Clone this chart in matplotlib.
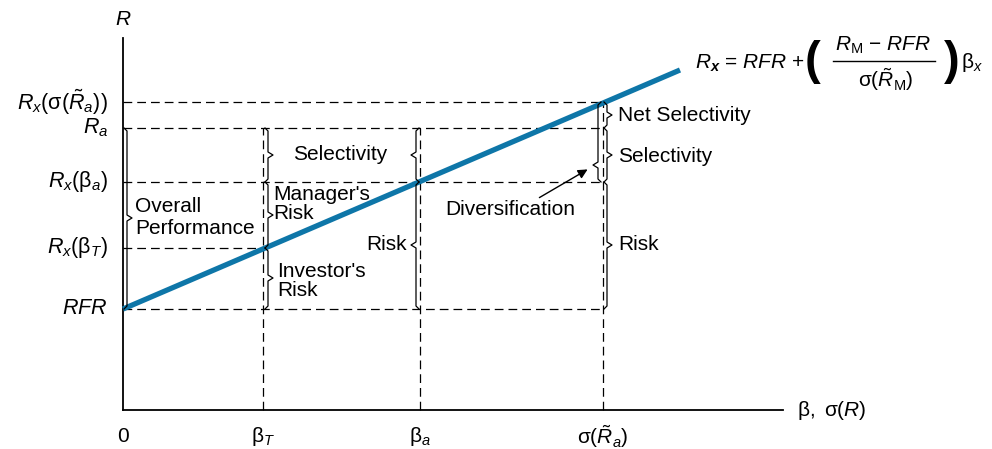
import matplotlib
matplotlib.use('Agg')
import matplotlib.pyplot as plt

plt.rcParams['font.family'] = ['Liberation Sans', 'DejaVu Sans']
plt.rcParams['mathtext.fontset'] = 'custom'
plt.rcParams['mathtext.rm'] = 'Liberation Sans'
plt.rcParams['mathtext.it'] = 'Liberation Sans:italic'
plt.rcParams['mathtext.bf'] = 'Liberation Sans:bold:italic'
plt.rcParams['mathtext.sf'] = 'Liberation Sans'

# positions on the x axis (beta / sigma) and return levels on the y axis
x_ticks = [0.0, 1.40, 2.97, 4.80]
x_labels = ['0', r'$\mathrm{\beta}_T$', r'$\mathrm{\beta}_a$', r'$\mathrm{\sigma}(\tilde{R}_a)$']
y_levels = [1.01, 1.62, 2.28, 2.82, 3.08]
y_labels = [r'$RFR$', r'$R_x(\mathrm{\beta}_T)$', r'$R_x(\mathrm{\beta}_a)$', r'$R_a$',
            r'$R_x(\mathrm{\sigma}(\tilde{R}_a))$']
# how far right each horizontal guide runs
y_ends = [4.80, 1.40, 4.80, 4.80, 4.80]
# how high each vertical guide runs
x_tops = [2.82, 2.82, 3.08]

# market line
line_x = [0.0, 5.57]
line_y = [1.01, 3.40]

x_axis_end = 6.60
y_axis_top = 3.72

BLUE = '#0e76a8'
FS = 15


def brace(ax, x, ytop, ybot, ytip, d=1):
    h = 0.03
    t = 0.05
    xs = [x - d * h, x, x, x + d * t, x, x, x - d * h]
    ys = [ytop, ytop - h, ytip + h, ytip, ytip - h, ybot + h, ybot]
    ax.plot(xs, ys, color='black', lw=0.9, solid_joinstyle='round')


fig = plt.figure(figsize=(9.92, 4.49), dpi=100)
ax = fig.add_axes([0, 0, 1, 1])
ax.set_xlim(-1.23, 8.69)
ax.set_ylim(-0.39, 4.10)
ax.axis('off')

dash = (0, (7, 4))

# guides
for y, xe in zip(y_levels, y_ends):
    ax.plot([0, xe], [y, y], color='black', lw=0.9, linestyle=dash)
for x, yt in zip(x_ticks[1:], x_tops):
    ax.plot([x, x], [0, yt], color='black', lw=0.9, linestyle=dash)

# axes
ax.plot([0, x_axis_end], [0, 0], color='black', lw=1.3)
ax.plot([0, 0], [0, y_axis_top], color='black', lw=1.3)

ax.plot(line_x, line_y, color=BLUE, lw=3.8, solid_capstyle='butt')

# tick labels
for x, lab in zip(x_ticks, x_labels):
    ax.text(x, -0.27, lab, ha='center', va='center', fontsize=FS)
for y, lab in zip(y_levels, y_labels):
    ax.text(-0.15, y, lab, ha='right', va='center', fontsize=15.5)

ax.text(0, 3.90, r'$R$', ha='center', va='center', fontsize=FS)
ax.text(6.74, 0.0, r'$\mathrm{\beta},\ \mathrm{\sigma}(R)$', ha='left', va='center', fontsize=FS)

# braces
brace(ax, 0.04, 2.82, 1.01, 1.92, 1)
brace(ax, 1.45, 2.82, 2.28, 2.55, 1)
brace(ax, 1.45, 2.28, 1.62, 1.95, 1)
brace(ax, 1.45, 1.62, 1.01, 1.32, 1)
brace(ax, 2.93, 2.82, 2.28, 2.55, -1)
brace(ax, 2.93, 2.28, 1.01, 1.65, -1)
brace(ax, 4.75, 3.08, 2.28, 2.45, -1)
brace(ax, 4.84, 3.08, 2.82, 2.95, 1)
brace(ax, 4.84, 2.82, 2.28, 2.55, 1)
brace(ax, 4.84, 2.28, 1.01, 1.65, 1)

# annotations
ax.text(0.12, 1.92, 'Overall\nPerformance', ha='left', va='center', fontsize=FS, linespacing=1.2)
ax.text(2.17, 2.55, 'Selectivity', ha='center', va='center', fontsize=FS)
ax.text(1.50, 2.06, "Manager's\nRisk", ha='left', va='center', fontsize=FS, linespacing=1.05)
ax.text(1.54, 1.29, "Investor's\nRisk", ha='left', va='center', fontsize=FS, linespacing=1.05)
ax.text(2.84, 1.65, 'Risk', ha='right', va='center', fontsize=FS)
ax.text(3.87, 2.00, 'Diversification', ha='center', va='center', fontsize=FS)
ax.annotate('', xy=(4.67, 2.42), xytext=(4.14, 2.11),
            arrowprops=dict(arrowstyle='-|>', color='black', lw=1.0, mutation_scale=14))
ax.text(4.95, 2.94, 'Net Selectivity', ha='left', va='center', fontsize=FS)
ax.text(4.95, 2.53, 'Selectivity', ha='left', va='center', fontsize=FS)
ax.text(4.95, 1.65, 'Risk', ha='left', va='center', fontsize=FS)

# equation of the line, built from pieces
ax.text(5.72, 3.47, r'$R_{\mathbf{x}}$ = $RFR$ +', ha='left', va='center', fontsize=FS)
ax.text(6.89, 3.48, '(', ha='center', va='center', fontsize=34, fontweight='bold')
ax.text(7.60, 3.65, r'$R_\mathrm{M}$ $-$ $RFR$', ha='center', va='center', fontsize=FS)
ax.plot([7.10, 8.12], [3.49, 3.49], color='black', lw=1.0)
ax.text(7.63, 3.30, r'$\mathrm{\sigma}(\tilde{R}_\mathrm{M})$', ha='center', va='center', fontsize=FS)
ax.text(8.29, 3.48, ')', ha='center', va='center', fontsize=34, fontweight='bold')
ax.text(8.38, 3.47, r'$\mathrm{\beta}_x$', ha='left', va='center', fontsize=FS)

fig.savefig('out.png', dpi=100)
